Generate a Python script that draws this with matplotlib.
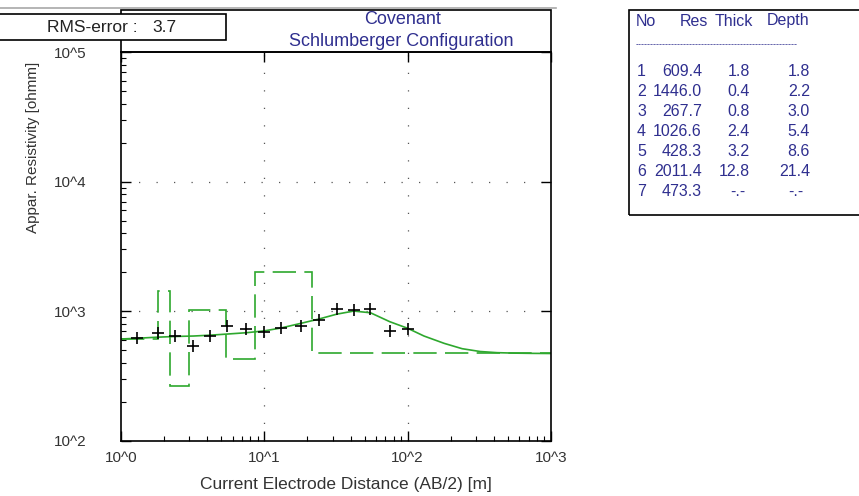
import matplotlib
matplotlib.use("Agg")
import matplotlib.pyplot as plt
from matplotlib.patches import Rectangle
from matplotlib.lines import Line2D

# field sounding: AB/2 [m] and apparent resistivity [ohmm]
ab2 = [1.3, 1.8, 2.4, 3.2, 4.2, 5.5, 7.5, 10, 13, 18, 24, 32, 42, 55, 75, 100]
rho_obs = [619, 684, 649, 543, 649, 771, 731, 689, 743, 771, 857, 1042, 1028, 1050, 708, 731]

# calculated curve of the layered model
model_x = [1.0, 1.3, 1.8, 2.4, 3.2, 4.2, 5.5, 7.5, 10, 13, 18, 24, 32, 42, 55,
           75, 100, 130, 180, 240, 320, 420, 560, 750, 1000]
model_rho = [612, 620, 632, 640, 645, 655, 668, 684, 707, 743, 808, 872, 951, 1005, 975,
             832, 740, 645, 566, 515, 490, 480, 476, 474, 473]

# layer model
layer_no = [1, 2, 3, 4, 5, 6, 7]
layer_res = [609.4, 1446.0, 267.7, 1026.6, 428.3, 2011.4, 473.3]
layer_thick = [1.8, 0.4, 0.8, 2.4, 3.2, 12.8]
layer_depth = [1.8, 2.2, 3.0, 5.4, 8.6, 21.4]
rms_error = 3.7

W, H = 859, 496
BLUE = "#2f2f8f"
GREEN = "#2ea82e"
GREY = "#333333"


def fx(x):
    return x / W


def fy(y):
    return 1 - y / H


plt.rcParams["font.family"] = "Liberation Sans"
fig = plt.figure(figsize=(W / 100, H / 100), dpi=100)
fig.patch.set_facecolor("white")

left, right, top, bottom = 121, 551, 52, 441
ax = fig.add_axes([fx(left), fy(bottom), (right - left) / W, (bottom - top) / H])
ax.set_xscale("log")
ax.set_yscale("log")
ax.set_xlim(1, 1000)
ax.set_ylim(100, 100000)

# layered model (dashed steps), model response and measured points
edges = [1.0] + layer_depth + [1000.0]
ax.stairs(layer_res, edges, baseline=None, color=GREEN, lw=1.2, ls=(0, (14, 5)))
ax.plot(model_x, model_rho, color=GREEN, lw=1.2)
ax.plot(ab2, rho_obs, ls="none", marker="+", ms=9, mew=1.2, color="black")

# dotted grid on the decades
for v in [10, 100]:
    ax.axvline(v, color="#555555", lw=0.9, ls=(0, (1, 13)), zorder=0)
for v in [1e3, 1e4]:
    ax.axhline(v, color="#555555", lw=0.9, ls=(0, (1, 13)), zorder=0)

ax.set_xticks([1, 10, 100, 1000])
ax.set_xticklabels(["10^0", "10^1", "10^2", "10^3"])
ax.set_yticks([100, 1000, 10000, 100000])
ax.set_yticklabels(["10^2", "10^3", "10^4", "10^5"])
ax.tick_params(which="major", direction="in", length=7, width=1, top=True, right=True,
               labelsize=11, labelcolor=GREY)
ax.tick_params(which="minor", direction="in", length=3.5, width=0.8, top=False, right=False)
ax.tick_params(axis="y", which="major", pad=25)
ax.tick_params(axis="x", which="major", pad=7)
for s in ax.spines.values():
    s.set_linewidth(1.2)

fig.text(fx(346), fy(485), "Current Electrode Distance (AB/2) [m]", ha="center", va="center",
         fontsize=12.5, color=GREY)
fig.text(fx(33), fy(147), "Appar. Resistivity [ohmm]", ha="center", va="center",
         rotation=90, fontsize=11, color=GREY)

# header box with the title and the RMS error
fig.add_artist(Line2D([fx(0), fx(556)], [fy(8), fy(8)], color="#a8a8a8", lw=1.2))
fig.add_artist(Rectangle((fx(left), fy(top)), (right - left) / W, (top - 10) / H,
                         fill=False, edgecolor="black", lw=1.2))
fig.text(fx(403), fy(20), "Covenant", ha="center", va="center", fontsize=13, color=BLUE)
fig.text(fx(401), fy(42), "Schlumberger Configuration", ha="center", va="center",
         fontsize=13, color=BLUE)

fig.add_artist(Rectangle((fx(-3), fy(40)), 229 / W, 26 / H, facecolor="white",
                         edgecolor="black", lw=1.2, zorder=5))
fig.text(fx(47), fy(28), "RMS-error :", ha="left", va="center",
         fontsize=12.5, color="#222222", zorder=6)
fig.text(fx(152), fy(28), f"{rms_error}", ha="left", va="center",
         fontsize=12.5, color="#222222", zorder=6)

# layer table
fig.add_artist(Rectangle((fx(629), fy(215)), 260 / W, 205 / H, fill=False,
                         edgecolor="black", lw=1.2))
fs = 11.5
fig.text(fx(636), fy(21), "No", ha="left", va="center", fontsize=fs, color=BLUE)
fig.text(fx(708), fy(21), "Res", ha="right", va="center", fontsize=fs, color=BLUE)
fig.text(fx(715), fy(21), "Thick", ha="left", va="center", fontsize=fs, color=BLUE)
fig.text(fx(767), fy(21), "Depth", ha="left", va="center", fontsize=fs, color=BLUE)
fig.text(fx(636), fy(45), "-" * 54, ha="left", va="center", fontsize=6.5, color=BLUE)
for i, (n, r) in enumerate(zip(layer_no, layer_res)):
    y = fy(72 + i * 20)
    fig.text(fx(637), y, str(n), ha="left", va="center", fontsize=fs, color=BLUE)
    fig.text(fx(702), y, f"{r:.1f}", ha="right", va="center", fontsize=fs, color=BLUE)
    if i < len(layer_thick):
        fig.text(fx(750), y, f"{layer_thick[i]:.1f}", ha="right", va="center",
                 fontsize=fs, color=BLUE)
        fig.text(fx(810), y, f"{layer_depth[i]:.1f}", ha="right", va="center",
                 fontsize=fs, color=BLUE)
    else:
        fig.text(fx(730), y, "-.-", ha="left", va="center", fontsize=fs, color=BLUE)
        fig.text(fx(788), y, "-.-", ha="left", va="center", fontsize=fs, color=BLUE)

fig.savefig("out.png", dpi=100)
